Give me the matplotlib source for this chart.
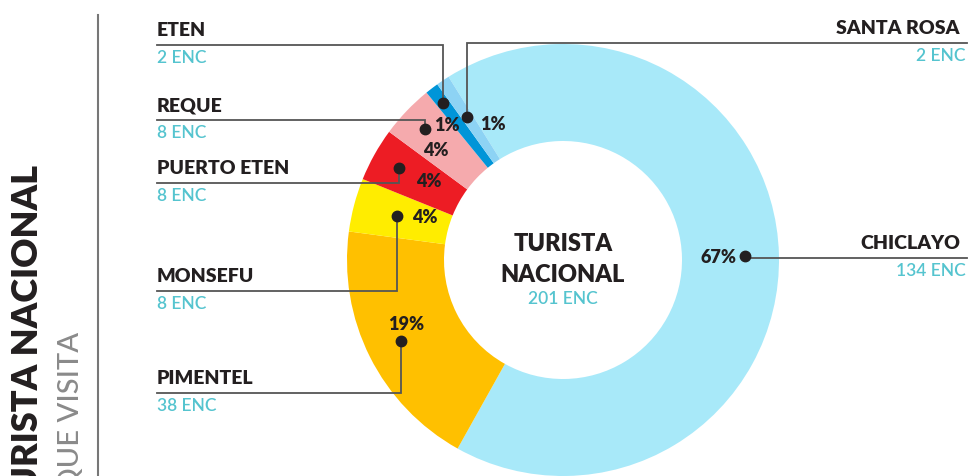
import matplotlib.pyplot as plt
import numpy as np

# datos del grafico
lugares = ['CHICLAYO', 'PIMENTEL', 'MONSEFU', 'PUERTO ETEN', 'REQUE', 'ETEN', 'SANTA ROSA']
encuestas = [134, 38, 8, 8, 8, 2, 2]
porcentajes = ['67%', '19%', '4%', '4%', '4%', '1%', '1%']
total_enc = 201
colores = ['#A8E9F9', '#FFC000', '#FFED00', '#ED1C24', '#F5AAAD', '#0095D8', '#8DD3F4']

# posicion de cada etiqueta: lado, y de la linea (px), radio del punto, desplazamiento del %
lados = ['right', 'left', 'left', 'left', 'left', 'left', 'right']
linea_y = [258, 393, 291, 183, 120, 45, 43]
radio_punto = [182, 181, 172, 188, 190, 198, 172]
desp_pct = [(None, None), (5, -18), (28, 0), (30, 12), (10, 20), (4, 21), (26, 6)]

W, H = 969, 476
FONT = 'Lato'
NEGRO = '#231F20'
TEAL = '#55C4CF'
GRIS = '#555555'


def py(y):
    # de coordenadas de pixel (y hacia abajo) a datos
    return H - y


fig = plt.figure(figsize=(W / 100, H / 100), dpi=100)
ax = fig.add_axes([0, 0, 1, 1])

cx, cy = 563, py(260)
R = 216
wedges, _ = ax.pie(encuestas, colors=colores, startangle=122, counterclock=False,
                   radius=R, center=(cx, cy),
                   wedgeprops=dict(width=97, linewidth=0))

for i, w in enumerate(wedges):
    ang = np.deg2rad((w.theta1 + w.theta2) / 2)
    x = cx + radio_punto[i] * np.cos(ang)
    y = cy + radio_punto[i] * np.sin(ang)
    ly = py(linea_y[i])
    x_fin = 157 if lados[i] == 'left' else 967
    ax.plot([x, x, x_fin], [y, ly, ly], color=GRIS, lw=1.3, zorder=3,
            solid_joinstyle='miter')
    ax.plot(x, y, 'o', color=NEGRO, ms=7.5, zorder=4)

    if desp_pct[i][0] is None:
        ax.text(x - 8, y, porcentajes[i], ha='right', va='center_baseline',
                fontsize=13, fontweight='heavy', color=NEGRO, family=FONT, zorder=5)
    else:
        dx, dy = desp_pct[i]
        ax.text(x + dx, y - dy, porcentajes[i], ha='center', va='center_baseline',
                fontsize=13, fontweight='heavy', color=NEGRO, family=FONT, zorder=5)

    # nombre y numero de encuestas
    if lados[i] == 'left':
        ax.text(157, ly + 9, lugares[i], ha='left', va='baseline', fontsize=14,
                fontweight='heavy', color=NEGRO, family=FONT)
        ax.text(157, ly - 18, f'{encuestas[i]} ENC', ha='left', va='baseline',
                fontsize=12.5, fontweight='semibold', color=TEAL, family=FONT)
    else:
        ax.text(960, ly + 9, lugares[i], ha='right', va='baseline', fontsize=14,
                fontweight='heavy', color=NEGRO, family=FONT)
        ax.text(966, ly - 18, f'{encuestas[i]} ENC', ha='right', va='baseline',
                fontsize=12.5, fontweight='semibold', color=TEAL, family=FONT)

# texto central
ax.text(cx, py(251), 'TURISTA', ha='center', va='baseline', fontsize=17,
        fontweight='heavy', color=NEGRO, family=FONT)
ax.text(cx, py(282), 'NACIONAL', ha='center', va='baseline', fontsize=17,
        fontweight='heavy', color=NEGRO, family=FONT)
ax.text(cx, py(304), f'{total_enc} ENC', ha='center', va='baseline', fontsize=12.5,
        fontweight='semibold', color=TEAL, family=FONT)

# titulo lateral (cortado abajo, como en el original)
ax.text(28, py(165), 'TURISTA NACIONAL', rotation=90, rotation_mode='anchor',
        ha='right', va='center', fontsize=26, fontweight='heavy', color=NEGRO, family=FONT)
ax.text(71, py(332), 'DISTRITO QUE VISITA', rotation=90, rotation_mode='anchor',
        ha='right', va='center', fontsize=21, fontweight='medium', color='#8A8A8A',
        family=FONT)
ax.plot([98, 98], [py(15), py(H + 5)], color='#777777', lw=1.5)

ax.set_xlim(0, W)
ax.set_ylim(0, H)
ax.set_aspect('equal')
ax.axis('off')

fig.savefig('out.png', dpi=100)
